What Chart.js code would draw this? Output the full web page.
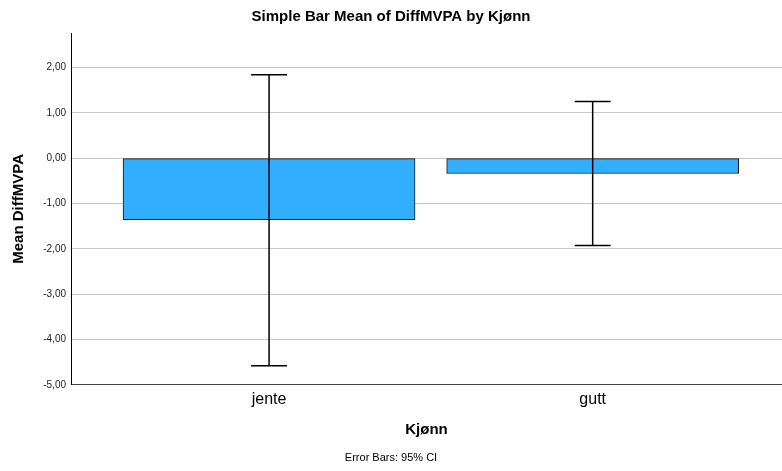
<!DOCTYPE html>
<html>
<head>
<meta charset="utf-8">
<script src="https://cdn.jsdelivr.net/npm/chart.js@4"></script>
<style>
body { margin: 0; background: #fff; }
#wrap { width: 782px; height: 471px; }
</style>
</head>
<body>
<div id="wrap"><canvas id="chart"></canvas></div>
<script>
var categories = ['jente', 'gutt'];
var means = [-1.36, -0.34];
var ciLow = [-4.58, -1.93];
var ciHigh = [1.84, 1.25];
var yTicks = [-5, -4, -3, -2, -1, 0, 1, 2];

var font = 'Liberation Sans, Arial, sans-serif';

// error bars drawn on top of the bars
var errorBars = {
    id: 'errorBars',
    afterDatasetsDraw: function(chart) {
        var ctx = chart.ctx;
        var xs = chart.scales.x, ys = chart.scales.y;
        ctx.save();
        ctx.strokeStyle = '#000';
        ctx.lineWidth = 1.5;
        for (var i = 0; i < categories.length; i++) {
            var x = xs.getPixelForValue(i);
            var top = ys.getPixelForValue(ciHigh[i]);
            var bot = ys.getPixelForValue(ciLow[i]);
            ctx.beginPath();
            ctx.moveTo(x, top); ctx.lineTo(x, bot);
            ctx.moveTo(x - 18, top); ctx.lineTo(x + 18, top);
            ctx.moveTo(x - 18, bot); ctx.lineTo(x + 18, bot);
            ctx.stroke();
        }
        ctx.restore();
    }
};

var points = categories.map(function(c, i) { return {x: i, y: means[i]}; });

new Chart(document.getElementById('chart'), {
    type: 'bar',
    data: {
        datasets: [{
            data: points,
            backgroundColor: '#32aeff',
            borderColor: '#111',
            borderWidth: 1,
            borderSkipped: false,
            barThickness: 292
        }]
    },
    plugins: [errorBars],
    options: {
        responsive: true,
        maintainAspectRatio: false,
        animation: false,
        layout: { padding: 0 },
        plugins: {
            legend: { display: false },
            tooltip: { enabled: false },
            title: {
                display: true,
                text: 'Simple Bar Mean of DiffMVPA by Kjønn',
                color: '#000',
                font: { family: font, size: 15, weight: 'bold' },
                padding: { top: 8, bottom: 7 }
            },
            subtitle: {
                display: true,
                position: 'bottom',
                text: 'Error Bars: 95% CI',
                color: '#000',
                font: { family: font, size: 11 },
                padding: { top: 4, bottom: 6 }
            }
        },
        scales: {
            x: {
                type: 'linear',
                min: -0.612,
                max: 1.585,
                offset: false,
                grid: { display: false, drawTicks: false, offset: false },
                border: { display: true, color: '#444', width: 1 },
                afterBuildTicks: function(scale) {
                    scale.ticks = categories.map(function(c, i) { return {value: i}; });
                },
                afterFit: function(scale) { scale.height = 63; },
                ticks: {
                    color: '#000',
                    padding: 5,
                    font: { family: font, size: 16 },
                    callback: function(v) { return categories[v]; }
                },
                title: {
                    display: true,
                    text: 'Kjønn',
                    color: '#000',
                    font: { family: font, size: 15, weight: 'bold' },
                    padding: { bottom: 9 }
                }
            },
            y: {
                min: -5,
                max: 2.76,
                grid: { color: '#c8c8c8', lineWidth: 1, drawTicks: false },
                border: { color: '#000', width: 1 },
                afterBuildTicks: function(scale) {
                    scale.ticks = yTicks.map(function(v) { return {value: v}; });
                },
                afterFit: function(scale) { scale.width = 71; },
                ticks: {
                    color: '#222',
                    padding: 5,
                    font: { family: font, size: 10 },
                    callback: function(v) { return v.toFixed(2).replace('.', ','); }
                },
                title: {
                    display: true,
                    text: 'Mean DiffMVPA',
                    color: '#000',
                    font: { family: font, size: 15, weight: 'bold' },
                    padding: { top: 10 }
                }
            }
        }
    }
});
</script>
</body>
</html>
